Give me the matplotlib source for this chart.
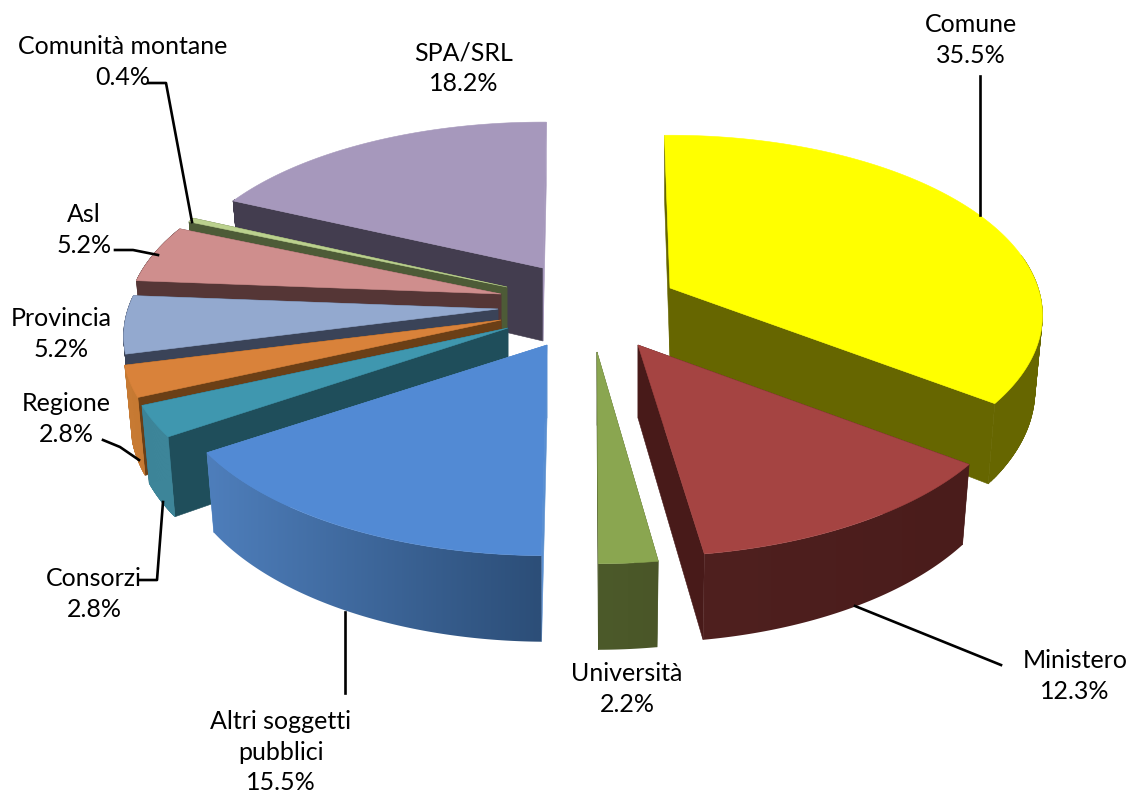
import numpy as np
import matplotlib
matplotlib.use('Agg')
import matplotlib.pyplot as plt
from matplotlib.colors import to_rgb
from matplotlib.patches import Polygon

plt.rcParams['font.family'] = ['Lato', 'DejaVu Sans']

labels = ['Comune', 'Ministero', 'Università', 'Altri soggetti\npubblici', 'Consorzi',
          'Regione', 'Provincia', 'Asl', 'Comunità montane', 'SPA/SRL']
values = [35.5, 12.3, 2.2, 15.5, 2.8, 2.8, 5.2, 5.2, 0.4, 18.2]

# layout, in pixels of the picture
apex = [(670, 288), (638, 345), (597, 352), (547, 345), (508, 328),
        (501, 320), (498, 309), (501, 294), (507, 287), (543, 268)]
scale_x = [0.995, 1.02, 1, 1.01, 1.018, 1.01, 1, 1, 0.99, 0.985]
scale_y = [1, 1.02, 1.02, 1.015, 1, 1, 1, 1, 1, 0.955]
spin = [-1.0, -0.5, 0, 0.9, 0, 0, 0, 0, 0, 0.6]
label_pos = [(971, 40), (1075, 676), (627, 689), (281, 752), (94, 594),
             (66, 419), (61, 334), (84, 230), (123, 62), (464, 68)]
leaders = [[(980, 76), (980, 215)],
           [(1001, 665), (855, 606)],
           [(345, 612), (345, 693)],
           [(140, 580), (157, 580), (163, 502)],
           [(103, 440), (120, 447), (139, 460)],
           [(115, 250), (133, 250), (158, 255)],
           [(148, 83), (166, 83), (192, 222)]]

top_col = ['#FFFF00', '#A54442', '#8AA650', '#528AD4', '#3F97AF',
           '#D9823A', '#93A9CF', '#CF8E8D', '#BBD18E', '#A698BC']
wall_col = [('#666600', '#666600'), ('#4A1C1B', '#4F201F'), ('#4A5628', '#4C5A2A'),
            ('#2C4E78', '#4E7EBB'), ('#3D8599', '#3D8599'), ('#C77A33', '#C77A33'),
            ('#3A4358', '#3A4358'), ('#553636', '#553636'), ('#4D5B37', '#4D5B37'),
            ('#433D4F', '#433D4F')]
start_col = ['#666600', '#4A1C1B', '#4A5628', '#5A8FD0', '#1F4E5B',
             '#6B3F16', '#3A4358', '#553636', '#4D5B37', '#433D4F']
end_col = ['#666600', '#481A19', '#4A5628', '#5A8FD0', '#1F4E5B',
           '#6B3F16', '#3A4358', '#553636', '#4D5B37', '#A698BC']

RX, RY, PERSP, DEPTH = 370, 176, 0.152, 73
# outer wall only shows on the front of the pie
WALL_FROM, WALL_TO = np.radians(80), np.radians(295)


def rim(i, theta, low=False):
    c = apex[i]
    theta = theta + np.radians(spin[i])
    u, v = np.sin(theta), -np.cos(theta)
    w = 1 / (1 - PERSP * v)
    x = RX * scale_x[i] * u * w
    y = RY * scale_y[i] * v * w
    if low:
        return c[0] + 0.98 * x, c[1] + y + DEPTH * w
    return c[0] + x, c[1] + y


def face(ax, pts, col):
    xs, ys = zip(*pts)
    ax.fill(xs, ys, facecolor=col, edgecolor=col, linewidth=0.4, zorder=1)


def draw_wall(ax, i, t0, t1):
    t0, t1 = max(t0, WALL_FROM), min(t1, WALL_TO)
    if t1 <= t0:
        return
    if wall_col[i][0] == wall_col[i][1]:
        # overlapping strips, so the silhouette at the pie's edge is filled without seams
        ts = np.linspace(t0, t1, 60)
        for a, b in zip(ts[:-3], ts[3:]):
            face(ax, [rim(i, a), rim(i, b), rim(i, b, True), rim(i, a, True)], wall_col[i][0])
        return
    ts = np.linspace(t0, t1, 200)
    pts = [rim(i, t) for t in ts] + [rim(i, t, True) for t in ts[::-1]]
    xs, ys = zip(*pts)
    c0, c1 = np.array(to_rgb(wall_col[i][0])), np.array(to_rgb(wall_col[i][1]))
    if rim(i, t0)[0] > rim(i, t1)[0]:
        c0, c1 = c1, c0
    ramp = np.linspace(0, 1, 64)[None, :, None]
    im = ax.imshow(c0 + (c1 - c0) * ramp, extent=(min(xs), max(xs), max(ys), min(ys)),
                   aspect='auto', interpolation='bilinear', zorder=1)
    im.set_clip_path(Polygon(pts, transform=ax.transData))


def draw_slice(ax, i, t0, t1):
    c = apex[i]
    cb = (c[0], c[1] + DEPTH)
    face(ax, [c, rim(i, t0), rim(i, t0, True), cb], start_col[i])
    face(ax, [c, rim(i, t1), rim(i, t1, True), cb], end_col[i])
    draw_wall(ax, i, t0, t1)
    ts = np.linspace(t0, t1, 200)
    face(ax, [c] + [rim(i, t) for t in ts], top_col[i])


fig = plt.figure(figsize=(11.37, 7.99), dpi=100)
ax = fig.add_axes([0, 0, 1, 1])
ax.set_xlim(0, 1137)
ax.set_ylim(799, 0)
ax.axis('off')

edges = np.radians(np.concatenate([[0], np.cumsum(values)]) / sum(values) * 360)
mids = (edges[:-1] + edges[1:]) / 2

# back slices first so the front ones cover them
for i in np.argsort(-np.cos(mids)):
    draw_slice(ax, i, edges[i], edges[i + 1])

for line in leaders:
    xs, ys = zip(*line)
    ax.plot(xs, ys, color='black', lw=1.9, solid_joinstyle='round', zorder=3)

for i, name in enumerate(labels):
    ax.text(label_pos[i][0], label_pos[i][1], f'{name}\n{values[i]:.1f}%', ha='center', va='center',
            fontsize=18, linespacing=1.4, color='black', zorder=4)

ax.set_xlim(0, 1137)
ax.set_ylim(799, 0)
fig.savefig('out.png', dpi=100)
